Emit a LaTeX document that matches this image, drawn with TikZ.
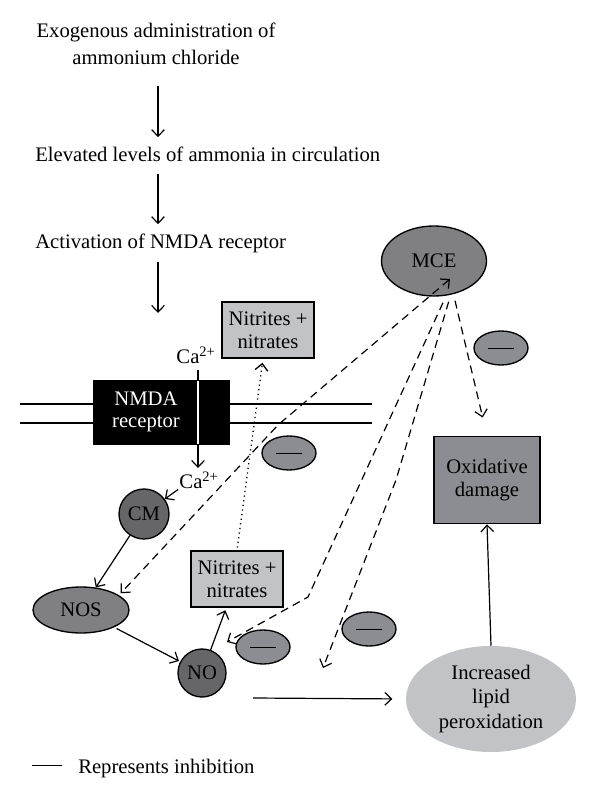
\documentclass[tikz,border=0pt]{standalone}
\usepackage{fontspec}
\setmainfont{Liberation Serif}
\usetikzlibrary{shapes.geometric,arrows.meta}

\definecolor{mcegray}{RGB}{128,128,131}
\definecolor{cmgray}{RGB}{102,102,104}
\definecolor{inhgray}{RGB}{140,141,146}
\definecolor{nitgray}{RGB}{194,195,199}

\begin{document}
\begin{tikzpicture}[x=0.75pt,y=0.75pt,yscale=-1,xscale=1,
	txt/.style={font=\fontsize{15.5}{20.25}\selectfont, inner sep=0pt},
	lbl/.style={font=\fontsize{15.5}{17}\selectfont, align=center, inner sep=0pt},
	arr/.style={-{Straight Barb[length=5pt,width=9.5pt]}, line width=0.9pt},
	dsh/.style={dash pattern=on 6pt off 4pt, line width=0.9pt},
	dot/.style={dash pattern=on 0.9pt off 2.6pt, line width=1pt},
	oval/.style={ellipse, draw, line width=1pt, inner sep=0pt},
	inh/.style={oval, fill=inhgray, minimum width=40.5pt, minimum height=25.5pt},
	nitbox/.style={lbl, draw, line width=1.2pt, fill=nitgray, minimum width=69pt, minimum height=42pt}]
	\useasboundingbox (0,0) rectangle (600,798);
	
	% Text Node
	\node [txt, align=center] (exo) at (156,44) {Exogenous administration of\\ammonium chloride};
	% Text Node
	\node [txt, anchor=base west] (elev) at (35,162) {Elevated levels of ammonia in circulation};
	% Text Node
	\node [txt, anchor=base west] (act) at (35,248) {Activation of NMDA receptor};
	\coordinate (memtop) at (158,313);
	
	%Straight Lines
	\draw [arr, shorten <=15.5pt, shorten >=7.5pt] (exo.south -| memtop) -- (memtop |- elev.north);
	\draw [arr, shorten <=9pt, shorten >=6.75pt] (memtop |- elev.south) -- (memtop |- act.north);
	\draw [arr, shorten <=7pt] (memtop |- act.south) -- (memtop);
	
	%Membrane
	\draw [line width=0.9pt] (20,404) -- (372,404);
	\draw [line width=0.9pt] (20,423) -- (372,423);
	\node [fill=black, inner sep=0pt, minimum width=102.75pt, minimum height=48.75pt] (nmda) at (161.5,412.5) {};
	\node [lbl, text=white] (nmdatxt) at (146,412) {NMDA\\receptor};
	
	% Calcium
	\node [txt] (catop) at (196,355) {Ca\textsuperscript{2+}};
	\node [txt] (cabot) at (199,480) {Ca\textsuperscript{2+}};
	\draw [arr, shorten <=5pt, shorten >=2.5pt] (catop.south -| 198,0) -- (cabot.north -| 198,0);
	\draw [white, line width=0.9pt] (198,381) -- (198,444);
	
	%Shapes
	\node [oval, fill=mcegray, minimum width=78.75pt, minimum height=52.5pt, font=\fontsize{15.5}{17}\selectfont] (mce) at (434,261) {MCE};
	\node [nitbox] (nitup) at (268,330) {Nitrites +\\nitrates};
	\node [nitbox] (nitlo) at (237,579) {Nitrites +\\nitrates};
	\node [oval, fill=cmgray, minimum size=37.5pt, font=\fontsize{15.5}{17}\selectfont] (cm) at (144,514) {CM};
	\node [oval, fill=mcegray, minimum width=72pt, minimum height=34.5pt, font=\fontsize{15.5}{17}\selectfont] (nos) at (81,610) {NOS};
	\node [oval, fill=cmgray, minimum size=36pt, font=\fontsize{15.5}{17}\selectfont] (no) at (202,673) {NO};
	\node [lbl, draw, line width=1.2pt, fill=inhgray, minimum width=79.5pt, minimum height=65.25pt] (oxd) at (487,480) {Oxidative\\damage};
	\node [ellipse, inner sep=0pt, fill=nitgray, minimum width=127.5pt, minimum height=79.5pt, align=center, font=\fontsize{15.5}{18.4}\selectfont] (lip) at (491,699) {Increased\\lipid\\peroxidation};
	
	% Inhibition
	\node [inh] (inh1) at (289,453) {\rule{19.5pt}{0.7pt}};
	\node [inh] (inh2) at (501,348) {\rule{19.5pt}{0.7pt}};
	\node [inh] (inh3) at (263,647) {\rule{19.5pt}{0.7pt}};
	\node [inh] (inh4) at (369,629) {\rule{19.5pt}{0.7pt}};
	
	%Straight Lines
	\draw [arr, shorten <=1pt] (cabot.south west) -- (cm);
	\draw [arr] (cm) -- (nos);
	\draw [arr, shorten <=2pt, shorten >=1pt] (nos) -- (no);
	\draw [arr, shorten >=2pt] (no) -- (nitlo);
	\draw [arr, dot, shorten <=2pt, shorten >=3pt] (nitlo.north) -- ([xshift=-3.75pt]nitup.south);
	\draw [arr] (lip.north) -- (oxd.south);
	\coordinate (nolow) at (253,698);
	\draw [arr, shorten >=10pt] (nolow) -- (lip.west);
	
	%Dashed Lines
	\coordinate (mcein) at (450,279);
	\coordinate (bend1) at (278,425);
	\coordinate (bend2) at (308,597);
	\coordinate (bend3) at (396,480);
	\coordinate (noin) at (227,642);
	\coordinate (free3) at (323,668);
	\draw [dsh, {Straight Barb[length=5pt,width=9.5pt]}-{Straight Barb[length=5pt,width=9.5pt]}] (mcein) -- (bend1) -- ([xshift=4pt]nos.north east);
	\draw [dsh, arr] ([xshift=6.75pt,yshift=4.5pt]mce.south) -- (bend2) -- (noin);
	\draw [dsh, arr] ([xshift=11pt,yshift=3.75pt]mce.south) -- (bend3) -- (free3);
	\draw [dsh, arr, shorten >=14pt] ([xshift=15.75pt,yshift=3pt]mce.south) -- (oxd.north);
	
	% Text Node
	\node [txt, anchor=base west] (legend) at (32,773) {\rule[5.5pt]{22.5pt}{0.8pt}\hspace{12pt}Represents inhibition};
	
\end{tikzpicture}
\end{document}
